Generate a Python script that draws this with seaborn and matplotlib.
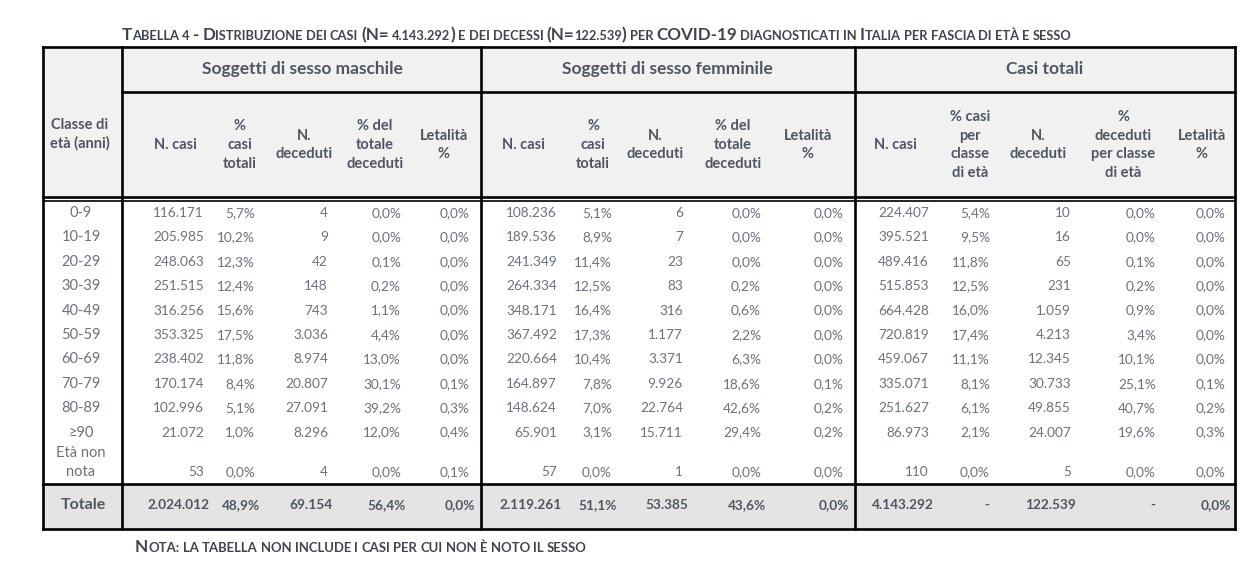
import matplotlib
matplotlib.use("Agg")
import matplotlib.pyplot as plt
import seaborn as sns
from matplotlib.patches import Rectangle

# ---------------- data ----------------
age_classes = ["0-9", "10-19", "20-29", "30-39", "40-49", "50-59",
               "60-69", "70-79", "80-89", "≥90", "Età non\nnota"]

male_cases = [116171, 205985, 248063, 251515, 316256, 353325, 238402, 170174, 102996, 21072, 53]
male_pct_cases = [5.7, 10.2, 12.3, 12.4, 15.6, 17.5, 11.8, 8.4, 5.1, 1.0, 0.0]
male_deaths = [4, 9, 42, 148, 743, 3036, 8974, 20807, 27091, 8296, 4]
male_pct_deaths = [0.0, 0.0, 0.1, 0.2, 1.1, 4.4, 13.0, 30.1, 39.2, 12.0, 0.0]
male_lethality = [0.0, 0.0, 0.0, 0.0, 0.0, 0.0, 0.0, 0.1, 0.3, 0.4, 0.1]

female_cases = [108236, 189536, 241349, 264334, 348171, 367492, 220664, 164897, 148624, 65901, 57]
female_pct_cases = [5.1, 8.9, 11.4, 12.5, 16.4, 17.3, 10.4, 7.8, 7.0, 3.1, 0.0]
female_deaths = [6, 7, 23, 83, 316, 1177, 3371, 9926, 22764, 15711, 1]
female_pct_deaths = [0.0, 0.0, 0.0, 0.2, 0.6, 2.2, 6.3, 18.6, 42.6, 29.4, 0.0]
female_lethality = [0.0, 0.0, 0.0, 0.0, 0.0, 0.0, 0.0, 0.1, 0.2, 0.2, 0.0]

total_cases = [224407, 395521, 489416, 515853, 664428, 720819, 459067, 335071, 251627, 86973, 110]
total_pct_cases = [5.4, 9.5, 11.8, 12.5, 16.0, 17.4, 11.1, 8.1, 6.1, 2.1, 0.0]
total_deaths = [10, 16, 65, 231, 1059, 4213, 12345, 30733, 49855, 24007, 5]
total_pct_deaths = [0.0, 0.0, 0.1, 0.2, 0.9, 3.4, 10.1, 25.1, 40.7, 19.6, 0.0]
total_lethality = [0.0, 0.0, 0.0, 0.0, 0.0, 0.0, 0.0, 0.1, 0.2, 0.3, 0.0]

male_totals = [2024012, 48.9, 69154, 56.4, 0.0]
female_totals = [2119261, 51.1, 53385, 43.6, 0.0]
overall_totals = [4143292, None, 122539, None, 0.0]

group_titles = ["Soggetti di sesso maschile", "Soggetti di sesso femminile", "Casi totali"]
sex_sub_headers = ["N. casi", "%\ncasi\ntotali", "N.\ndeceduti", "% del\ntotale\ndeceduti", "Letalità\n%"]
tot_sub_headers = ["N. casi", "% casi\nper\nclasse\ndi età", "N.\ndeceduti", "%\ndeceduti\nper classe\ndi età", "Letalità\n%"]
age_header = "Classe di\netà (anni)"
total_label = "Totale"
title_text = ("Tabella 4 - Distribuzione dei casi (N= 4.143.292) e dei decessi (N=122.539) "
              "per COVID-19 diagnosticati in Italia per fascia di età e sesso")
note_text = "Nota: la tabella non include i casi per cui non è noto il sesso"

# ---------------- style ----------------
sns.set_theme(style="white")
FONT = ["Lato", "DejaVu Sans"]
plt.rcParams["font.family"] = FONT

HEAD_C = "#50555f"
DATA_C = "#6c717c"
TITLE_C = "#3f444e"
HEAD_BG = "#f1f1f1"
TOT_BG = "#e4e4e4"

W, H = 1255, 566
fig = plt.figure(figsize=(W / 100, H / 100), dpi=100)
ax = fig.add_axes([0, 0, 1, 1])
ax.set_xlim(0, W)
ax.set_ylim(H, 0)
ax.axis("off")
renderer = fig.canvas.get_renderer()


def fmt_int(v):
    return f"{v:,}".replace(",", ".")


def fmt_pct(v):
    return f"{v:.1f}%".replace(".", ",")


# ---------------- table geometry ----------------
L, R = 43, 1235
TOP, GRP, HEAD_B, TOT_T, BOT = 47, 92, 197, 484, 529
VSEP = [122, 481, 855]

ax.add_patch(Rectangle((L, TOP), R - L, HEAD_B - TOP, color=HEAD_BG, zorder=0))
ax.add_patch(Rectangle((L, TOT_T), R - L, BOT - TOT_T, color=TOT_BG, zorder=0))

lw = 1.9
for y in [TOP, HEAD_B, TOT_T, BOT]:
    ax.plot([L, R], [y, y], color="black", lw=lw, solid_capstyle="projecting", zorder=3)
ax.plot([L, R], [HEAD_B + 4, HEAD_B + 4], color="black", lw=1.2, zorder=3)
ax.plot([VSEP[0], R], [GRP, GRP], color="black", lw=lw, zorder=3)
for x in [L] + VSEP + [R]:
    ax.plot([x, x], [TOP, BOT], color="black", lw=lw, solid_capstyle="projecting", zorder=3)

# ---------------- headers ----------------
group_centers = [302, 667, 1045]
for g, cx in zip(group_titles, group_centers):
    ax.text(cx, 69, g, ha="center", va="center", fontsize=12.5, fontweight="bold", color=HEAD_C)

header_centers = [[175, 240, 304, 375, 444],
                  [523, 593, 655, 733, 808],
                  [895, 970, 1038, 1123, 1202]]
LINE_H = 18.8
HC_Y = 145


def multiline(x, yc, text, **kw):
    lines = text.split("\n")
    n = len(lines)
    for k, ln in enumerate(lines):
        ax.text(x, yc + (k - (n - 1) / 2) * LINE_H, ln, ha="center", va="center", **kw)


for gi, centers in enumerate(header_centers):
    labels = tot_sub_headers if gi == 2 else sex_sub_headers
    for lab, cx in zip(labels, centers):
        multiline(cx, HC_Y, lab, fontsize=10.5, fontweight="bold", color=HEAD_C)

multiline(80, 134, age_header, fontsize=10.5, fontweight="bold", color=HEAD_C)

# ---------------- body ----------------
right_edges = [[204, 255, 328, 401, 470],
               [557, 612, 683, 761, 844],
               [929, 990, 1071, 1156, 1226]]
groups = [
    [male_cases, male_pct_cases, male_deaths, male_pct_deaths, male_lethality],
    [female_cases, female_pct_cases, female_deaths, female_pct_deaths, female_lethality],
    [total_cases, total_pct_cases, total_deaths, total_pct_deaths, total_lethality],
]
formatters = [fmt_int, fmt_pct, fmt_int, fmt_pct, fmt_pct]

row_y = [213 + i * 24.4 for i in range(10)] + [472.5]

for i, age in enumerate(age_classes):
    if "\n" in age:
        a, b = age.split("\n")
        ax.text(81, 453, a, ha="center", va="center", fontsize=10.5, color=DATA_C)
        ax.text(81, 472.5, b, ha="center", va="center", fontsize=10.5, color=DATA_C)
    else:
        ax.text(81, row_y[i], age, ha="center", va="center", fontsize=10.5, color=DATA_C)
    for gi, cols in enumerate(groups):
        for ci, col in enumerate(cols):
            ax.text(right_edges[gi][ci], row_y[i], formatters[ci](col[i]),
                    ha="right", va="center", fontsize=9.8, color=DATA_C)

# ---------------- totals row ----------------
TOT_Y = 505
ax.text(83, TOT_Y, total_label, ha="center", va="center", fontsize=11.5, fontweight="bold", color=HEAD_C)
for gi, vals in enumerate([male_totals, female_totals, overall_totals]):
    for ci, v in enumerate(vals):
        xr = right_edges[gi][ci] + 5
        if v is None:
            ax.text(xr - 8, TOT_Y, "-", ha="center", va="center", fontsize=9.8,
                    fontweight="bold", color=HEAD_C)
        else:
            ax.text(xr, TOT_Y, formatters[ci](v), ha="right", va="center", fontsize=9.8,
                    fontweight="bold", color=HEAD_C)


# ---------------- small caps title and note ----------------
def smallcaps(x, y, text, target_w, ratio=0.76, color=TITLE_C):
    def tokens_for():
        toks = []
        prev = " "
        for ch in text:
            if ch == " ":
                toks.append((" ", None))
                prev = ch
                continue
            if ch.isdigit():
                is_big = (prev == "-") or (prev.isdigit() and toks and toks[-1][1])
            else:
                is_big = ch.isupper() or ch in "()=-"
            s = ch.upper()
            if toks and toks[-1][1] == is_big:
                toks[-1] = (toks[-1][0] + s, is_big)
            else:
                toks.append((s, is_big))
            prev = ch
        return toks

    def measure(s, size):
        t = ax.text(0, 0, s, fontsize=size, fontweight="bold")
        w = t.get_window_extent(renderer).width
        t.remove()
        return w

    toks = tokens_for()

    def layout(big, draw):
        small = big * ratio
        sp = measure("I I", small) - measure("II", small)
        cur = x
        for s, is_big in toks:
            if is_big is None:
                cur += sp
                continue
            size = big if is_big else small
            if draw:
                t = ax.text(cur, y, s, fontsize=size, fontweight="bold", color=color,
                            ha="left", va="baseline")
                cur += t.get_window_extent(renderer).width
            else:
                cur += measure(s, size)
        return cur - x

    w0 = layout(10.0, False)
    big = 10.0 * target_w / w0
    layout(big, True)


smallcaps(122, 40, title_text, 948)
smallcaps(135, 552, note_text, 450)

fig.savefig("out.png", dpi=100, facecolor="white")
